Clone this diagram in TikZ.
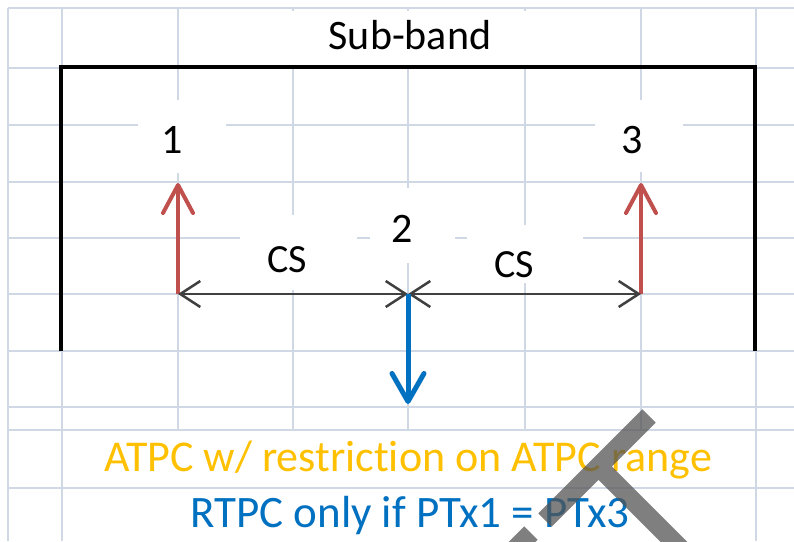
\documentclass[tikz,border=0pt]{standalone}
\usepackage{fontspec}
\setmainfont{Carlito}[Ligatures=NoCommon]
\usetikzlibrary{arrows.meta}

\definecolor{gridcol}{HTML}{D0D7E5}
\definecolor{redarrow}{HTML}{C0504D}
\definecolor{bluearrow}{HTML}{0070C0}
\definecolor{orangetxt}{HTML}{FFC000}
\definecolor{darkline}{HTML}{404040}
\definecolor{markgray}{HTML}{555555}

\begin{document}
\begin{tikzpicture}[x=1pt,y=-1pt,
  gridline/.style={gridcol,line width=1.3pt},
  bracketline/.style={black,line width=4pt},
  txtlabel/.style={font=\fontsize{42}{50}\selectfont,anchor=base,inner sep=0pt},
  cslabel/.style={font=\fontsize{40}{48}\selectfont,anchor=base,inner sep=0pt},
  condlabel/.style={font=\fontsize{44}{52}\selectfont,anchor=base,inner sep=0pt},
  uparrow/.style={redarrow,line width=4pt,-{Straight Barb[length=28pt,width=30pt,round]}},
  downarrow/.style={bluearrow,line width=5pt,-{Straight Barb[length=28pt,width=32pt,round]}},
  csarrow/.style={darkline,line width=2.5pt,{Straight Barb[length=20pt,width=26pt]}-{Straight Barb[length=20pt,width=26pt]}}]

\useasboundingbox (0,0) rectangle (794,541);
\fill[white] (0,0) rectangle (794,541);

%Grille de la feuille
\foreach \y in {8,68,125,182,238,294,351,407,430,488}
  \draw[gridline] (8,\y) -- (794,\y);
\foreach \x in {8,62,756}
  \draw[gridline] (\x,8) -- (\x,541);
\foreach \x in {178,293,408,525,641}
  \draw[gridline] (\x,8) -- (\x,430);

%Zones de texte
\fill[white] (230,11) rectangle (590,65);
\fill[white] (138,100) rectangle (226,173);
\fill[white] (595,100) rectangle (683,172);
\fill[white] (370,188) rectangle (455,263);
\fill[white] (240,215) rectangle (357,290);
\fill[white] (467,225) rectangle (583,283);

%Sous-bande
\draw[bracketline] (61,351) -- (61,67) -- (755,67) -- (755,351);
\node[txtlabel] (subband) at (410,49) {Sub-band};

%Porteuses
\node[txtlabel] (n1) at (172,153) {1};
\node[txtlabel] (n2) at (402,242) {2};
\node[txtlabel] (n3) at (632,153) {3};

\coordinate (c1) at (178,294);
\coordinate (c2) at (408,294);
\coordinate (c3) at (641,294);
\coordinate (t1) at (178,183);
\coordinate (t2) at (408,404);
\coordinate (t3) at (641,183);

\draw[uparrow] (c1) -- (t1);
\draw[uparrow] (c3) -- (t3);
\draw[csarrow] (c1) -- (c2);
\draw[csarrow] (c2) -- (c3);
\draw[downarrow] (c2) -- (t2);

%Espacement
\node[cslabel] (csl) at (287,272) {CS};
\node[cslabel] (csr) at (514,277) {CS};

%Conditions
\node[condlabel,text=orangetxt] (atpc) at (408,471) {ATPC w/ restriction on ATPC range};
\node[condlabel,font=\fontsize{45}{52}\selectfont,text=bluearrow] (rtpc) at (410,527) {RTPC only if PTx1 = PTx3};

%Trait gris
\fill[markgray,fill opacity=0.75] (642.3,409.3) -- (655.7,422.7) -- (611.9,466.5) -- (706.7,561.3)
  -- (693.3,574.7) -- (598.5,479.9) -- (551.7,526.7) -- (538.3,513.3) -- cycle;
\fill[markgray,fill opacity=0.75] (524.3,526.3) -- (537.7,539.7) -- (509.7,567.7) -- (496.3,554.3) -- cycle;

\end{tikzpicture}
\end{document}
